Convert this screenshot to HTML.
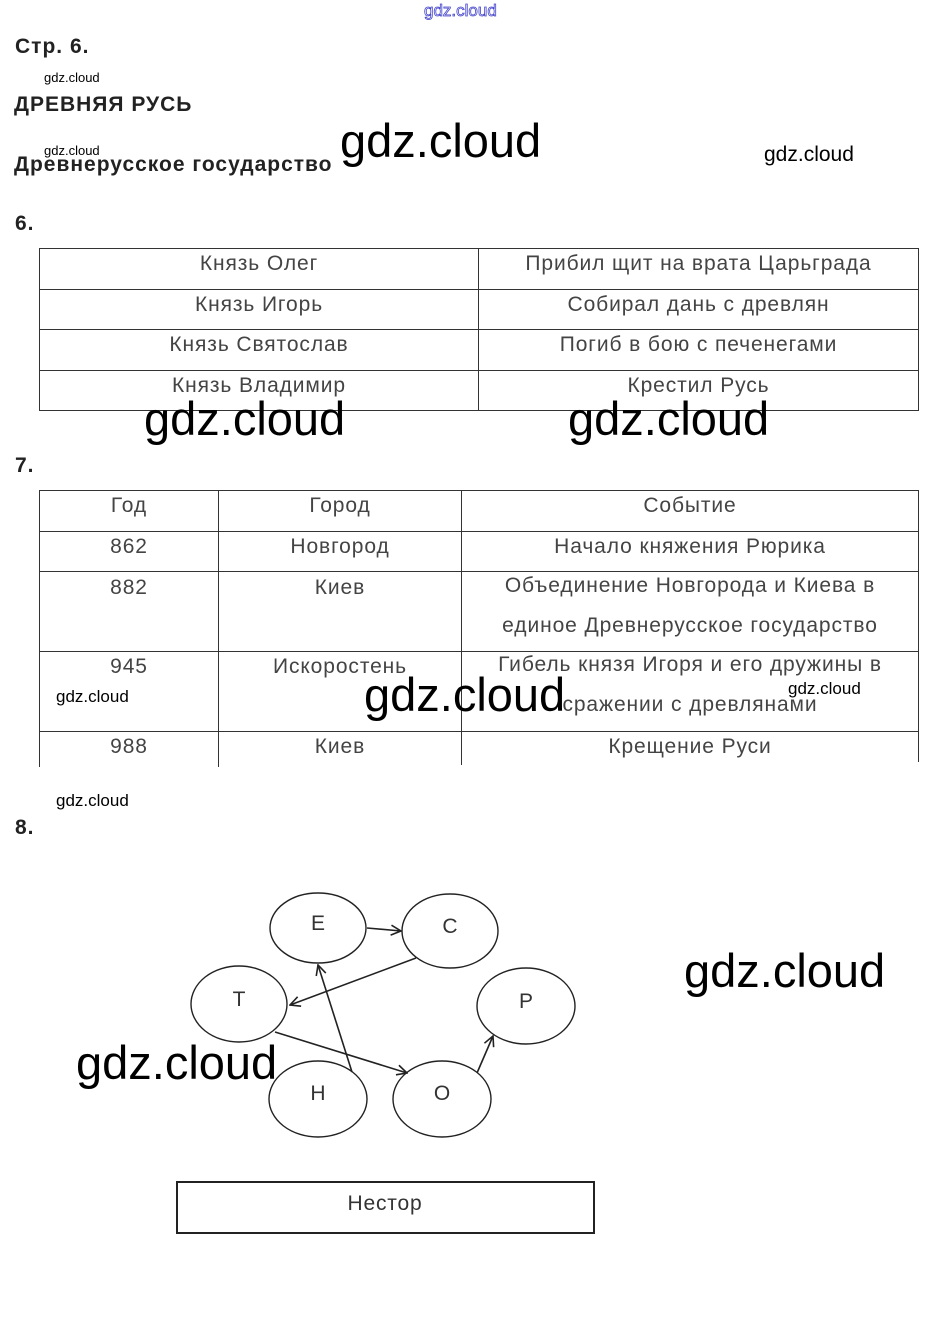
<!DOCTYPE html>
<html><head><meta charset="utf-8"><style>
body{margin:0;width:925px;height:1332px;background:#fff;position:relative;font-family:"Liberation Sans",sans-serif;color:#222;overflow:hidden}
.a{position:absolute;white-space:nowrap}
.h{font-weight:bold;font-size:21px;letter-spacing:1px;color:#222}
.wm{font-family:"Liberation Sans",sans-serif;color:#000}
.ln{position:absolute;background:#333}
.t{position:absolute;font-size:21px;letter-spacing:0.9px;color:#444;text-align:center;white-space:nowrap}
</style></head><body>
<div class="a" style="left:424px;top:1px;font-size:17px;color:#fff;-webkit-text-stroke:0.8px #44c;">gdz.cloud</div>
<div class="a h" style="left:15px;top:35px">Стр. 6.</div>
<div class="a wm" style="left:44px;top:70px;font-size:13px">gdz.cloud</div>
<div class="a h" style="left:14px;top:93px">ДРЕВНЯЯ РУСЬ</div>
<div class="a wm" style="left:44px;top:143px;font-size:13px">gdz.cloud</div>
<div class="a h" style="left:14px;top:153px">Древнерусское государство</div>
<div class="a wm" style="left:340px;top:113px;font-size:47px">gdz.cloud</div>
<div class="a wm" style="left:764px;top:143px;font-size:21px">gdz.cloud</div>
<div class="a h" style="left:15px;top:212px">6.</div>

<!-- table 1 -->
<div class="ln" style="left:39px;top:248px;width:880px;height:1px"></div>
<div class="ln" style="left:39px;top:289px;width:880px;height:1px"></div>
<div class="ln" style="left:39px;top:329px;width:880px;height:1px"></div>
<div class="ln" style="left:39px;top:370px;width:880px;height:1px"></div>
<div class="ln" style="left:39px;top:410px;width:880px;height:1px"></div>
<div class="ln" style="left:39px;top:248px;width:1px;height:163px"></div>
<div class="ln" style="left:478px;top:248px;width:1px;height:163px"></div>
<div class="ln" style="left:918px;top:248px;width:1px;height:163px"></div>
<div class="t" style="left:40px;width:438px;top:252px">Князь Олег</div>
<div class="t" style="left:479px;width:439px;top:252px">Прибил щит на врата Царьграда</div>
<div class="t" style="left:40px;width:438px;top:293px">Князь Игорь</div>
<div class="t" style="left:479px;width:439px;top:293px">Собирал дань с древлян</div>
<div class="t" style="left:40px;width:438px;top:333px">Князь Святослав</div>
<div class="t" style="left:479px;width:439px;top:333px">Погиб в бою с печенегами</div>
<div class="t" style="left:40px;width:438px;top:374px">Князь Владимир</div>
<div class="t" style="left:479px;width:439px;top:374px">Крестил Русь</div>
<div class="a wm" style="left:144px;top:391px;font-size:47px">gdz.cloud</div>
<div class="a wm" style="left:568px;top:391px;font-size:47px">gdz.cloud</div>
<div class="a h" style="left:15px;top:454px">7.</div>

<!-- table 2 -->
<div class="ln" style="left:39px;top:490px;width:880px;height:1px"></div>
<div class="ln" style="left:39px;top:531px;width:880px;height:1px"></div>
<div class="ln" style="left:39px;top:571px;width:880px;height:1px"></div>
<div class="ln" style="left:39px;top:651px;width:880px;height:1px"></div>
<div class="ln" style="left:39px;top:731px;width:880px;height:1px"></div>
<div class="ln" style="left:39px;top:490px;width:1px;height:277px"></div>
<div class="ln" style="left:218px;top:490px;width:1px;height:277px"></div>
<div class="ln" style="left:461px;top:490px;width:1px;height:275px"></div>
<div class="ln" style="left:918px;top:490px;width:1px;height:272px"></div>
<div class="t" style="left:40px;width:178px;top:494px">Год</div>
<div class="t" style="left:219px;width:242px;top:494px">Город</div>
<div class="t" style="left:462px;width:456px;top:494px">Событие</div>
<div class="t" style="left:40px;width:178px;top:535px">862</div>
<div class="t" style="left:219px;width:242px;top:535px">Новгород</div>
<div class="t" style="left:462px;width:456px;top:535px">Начало княжения Рюрика</div>
<div class="t" style="left:40px;width:178px;top:576px">882</div>
<div class="t" style="left:219px;width:242px;top:576px">Киев</div>
<div class="t" style="left:462px;width:456px;top:576px;line-height:40px;margin-top:-10px">Объединение Новгорода и Киева в<br>единое Древнерусское государство</div>
<div class="t" style="left:40px;width:178px;top:655px">945</div>
<div class="t" style="left:219px;width:242px;top:655px">Искоростень</div>
<div class="t" style="left:462px;width:456px;top:655px;line-height:40px;margin-top:-10px">Гибель князя Игоря и его дружины в<br>сражении с древлянами</div>
<div class="t" style="left:40px;width:178px;top:735px">988</div>
<div class="t" style="left:219px;width:242px;top:735px">Киев</div>
<div class="t" style="left:462px;width:456px;top:735px">Крещение Руси</div>
<div class="a wm" style="left:56px;top:687px;font-size:17px">gdz.cloud</div>
<div class="a wm" style="left:364px;top:667px;font-size:47px">gdz.cloud</div>
<div class="a wm" style="left:788px;top:679px;font-size:17px">gdz.cloud</div>
<div class="a wm" style="left:56px;top:791px;font-size:17px">gdz.cloud</div>
<div class="a h" style="left:15px;top:816px">8.</div>

<svg class="a" style="left:0;top:0" width="925" height="1332">
<defs><marker id="m" markerWidth="12" markerHeight="12" refX="11" refY="6" orient="auto" markerUnits="userSpaceOnUse"><path d="M1,1 L11,6 L1,11" fill="none" stroke="#222" stroke-width="1.6"/></marker></defs>
<g fill="#fff" stroke="#222" stroke-width="1.4">
<ellipse cx="318" cy="928" rx="48" ry="35"/>
<ellipse cx="450" cy="931" rx="48" ry="37"/>
<ellipse cx="239" cy="1004" rx="48" ry="38"/>
<ellipse cx="526" cy="1006" rx="49" ry="38"/>
<ellipse cx="318" cy="1099" rx="49" ry="38"/>
<ellipse cx="442" cy="1099" rx="49" ry="38"/>
</g>
<g stroke="#222" stroke-width="1.6" fill="none" marker-end="url(#m)">
<line x1="367" y1="928" x2="401" y2="931"/>
<line x1="416" y1="958" x2="290" y2="1005"/>
<line x1="352" y1="1072" x2="318" y2="965"/>
<line x1="275" y1="1032" x2="407" y2="1073"/>
<line x1="477" y1="1073" x2="493" y2="1036"/>
</g>
<g font-family="Liberation Sans,sans-serif" font-size="21" fill="#333" text-anchor="middle">
<text x="318" y="930">Е</text><text x="450" y="933">С</text><text x="239" y="1006">Т</text>
<text x="526" y="1008">Р</text><text x="318" y="1100">Н</text><text x="442" y="1100">О</text>
</g>
<rect x="177" y="1182" width="417" height="51" fill="none" stroke="#222" stroke-width="2"/>
<text x="385" y="1210" font-family="Liberation Sans,sans-serif" font-size="21" letter-spacing="0.8" fill="#333" text-anchor="middle">Нестор</text>
</svg>
<div class="a wm" style="left:684px;top:943px;font-size:47px">gdz.cloud</div>
<div class="a wm" style="left:76px;top:1035px;font-size:47px">gdz.cloud</div>
</body></html>
